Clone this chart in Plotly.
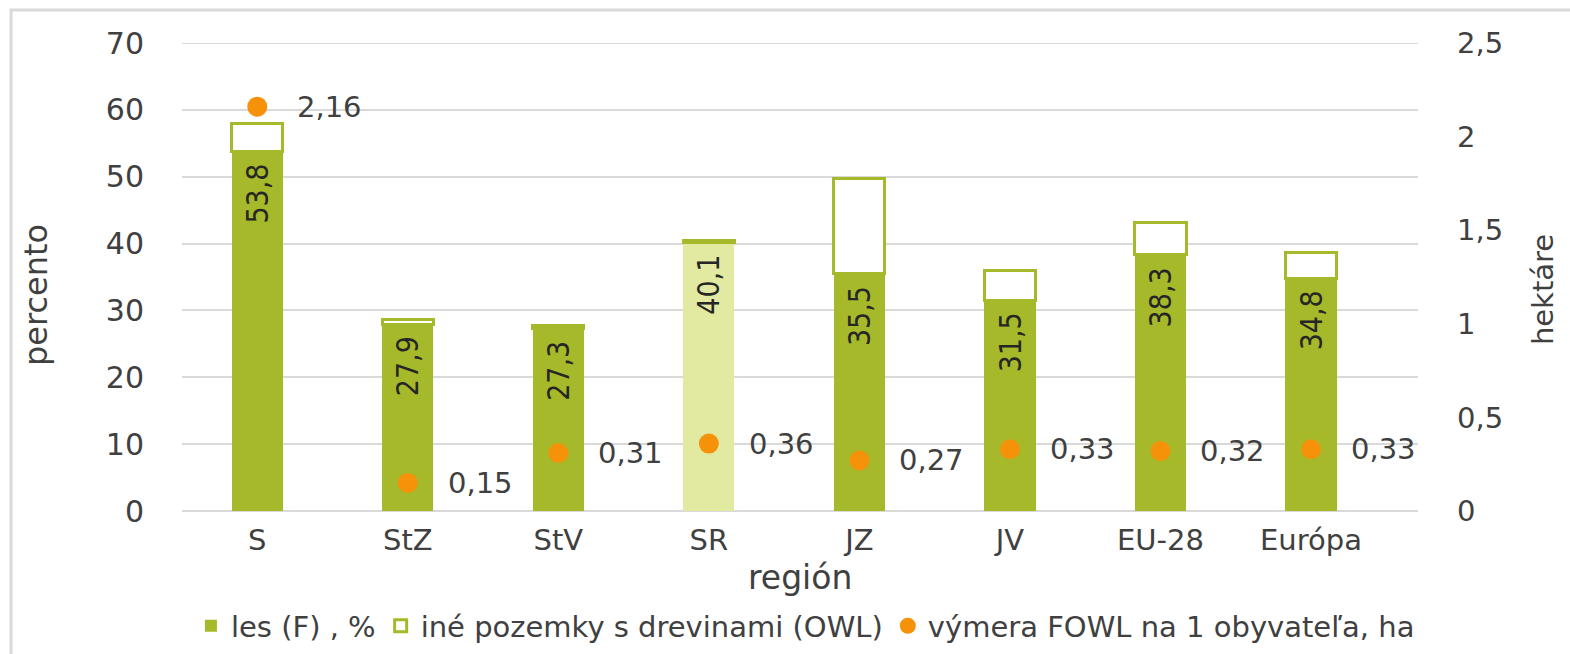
import plotly.graph_objects as go

categories = ["S", "StZ", "StV", "SR", "JZ", "JV", "EU-28", "Európa"]
forest_pct = [53.8, 27.9, 27.3, 40.1, 35.5, 31.5, 38.3, 34.8]
owl_pct = [4.2, 0.7, 0.4, 0.4, 14.3, 4.5, 4.9, 3.8]
fowl_ha = [2.16, 0.15, 0.31, 0.36, 0.27, 0.33, 0.32, 0.33]

left_ticks = [0, 10, 20, 30, 40, 50, 60, 70]
right_ticks = [0, 0.5, 1, 1.5, 2, 2.5]

GREEN = "#A6B92A"
LIGHT_GREEN = "#E1EAA0"
ORANGE = "#F5920A"
GRID = "#D9D9D9"
TEXT = "#404040"
FONT = "DejaVu Sans"
NARROW = "Liberation Sans Narrow, DejaVu Sans Condensed, Liberation Sans"

def fmt(v):
    return f"{v:g}".replace(".", ",")

forest_colors = [LIGHT_GREEN if c == "SR" else GREEN for c in categories]

fig = go.Figure()
fig.add_trace(go.Bar(
    x=categories, y=forest_pct, name="les (F) , %",
    marker=dict(color=forest_colors, line=dict(width=0)),
))
fig.add_trace(go.Bar(
    x=categories, y=owl_pct, name="iné pozemky s drevinami (OWL)",
    marker=dict(color="white", line=dict(color=GREEN, width=3)),
))
fig.add_trace(go.Scatter(
    x=categories, y=fowl_ha, name="výmera FOWL na 1 obyvateľa, ha",
    yaxis="y2", mode="markers",
    marker=dict(color=ORANGE, size=20, symbol="circle"),
))

annotations = []
for c, v in zip(categories, forest_pct):
    annotations.append(dict(
        x=c, y=v, xref="x", yref="y", text=fmt(v), showarrow=False,
        textangle=-90, xanchor="center", yanchor="middle", yshift=-42,
        font=dict(family=NARROW, size=30, color="#262626"),
    ))
for c, v in zip(categories, fowl_ha):
    annotations.append(dict(
        x=c, y=v, xref="x", yref="y2", text=fmt(v), showarrow=False,
        xanchor="left", yanchor="middle", xshift=38,
        font=dict(family=FONT, size=29, color=TEXT),
    ))

# axis titles
annotations += [
    dict(text="percento", xref="paper", yref="paper", x=0, y=0.4615, xshift=-146,
         xanchor="center", yanchor="middle", textangle=-90, showarrow=False,
         font=dict(family=FONT, size=32, color=TEXT)),
    dict(text="hektáre", xref="paper", yref="paper", x=1, y=0.472, xshift=125,
         xanchor="center", yanchor="middle", textangle=-90, showarrow=False,
         font=dict(family=FONT, size=29, color=TEXT)),
    dict(text="región", xref="paper", yref="paper", x=0.5, y=-0.143,
         xanchor="center", yanchor="middle", showarrow=False,
         font=dict(family=FONT, size=33, color=TEXT)),
]

fig.update_layout(
    width=1570, height=654,
    margin=dict(l=182, r=152, t=43, b=143),
    paper_bgcolor="white", plot_bgcolor="white",
    barmode="stack", bargap=0.66,
    separators=", ",
    font=dict(family=FONT, size=25, color=TEXT),
    showlegend=True,
    legend=dict(
        orientation="h", xref="container", yref="container",
        x=0.513, xanchor="center", y=0.043, yanchor="middle",
        font=dict(family=FONT, size=29, color=TEXT),
        traceorder="normal", itemwidth=30,
    ),
    xaxis=dict(
        showgrid=False, showline=False, ticks="", automargin=False,
        ticklabelstandoff=9,
        tickfont=dict(family=FONT, size=29, color=TEXT),
    ),
    yaxis=dict(
        range=[0, 70], tickvals=left_ticks, automargin=False,
        showgrid=True, gridcolor=GRID, gridwidth=2,
        zeroline=True, zerolinecolor=GRID, zerolinewidth=2,
        showline=False, ticks="", ticklabelstandoff=37,
        tickfont=dict(family=FONT, size=30, color=TEXT),
    ),
    yaxis2=dict(
        range=[0, 2.5], tickvals=right_ticks, overlaying="y", side="right",
        showgrid=False, zeroline=False, showline=False, ticks="", automargin=False,
        ticklabelstandoff=38,
        tickfont=dict(family=FONT, size=29, color=TEXT),
    ),
    annotations=annotations,
    shapes=[
        dict(type="rect", xref="paper", yref="paper",
             x0=-0.1383, x1=1.14, y0=-0.35, y1=1.0705,
             line=dict(color=GRID, width=3), fillcolor="rgba(0,0,0,0)", layer="below"),
        dict(type="line", xref="paper", yref="y",
             x0=0, x1=1, y0=left_ticks[-1], y1=left_ticks[-1],
             line=dict(color=GRID, width=2), layer="below"),
    ],
)

fig.write_html(
    "out.html",
    config={"displayModeBar": False},
    post_script="document.body.style.margin='0';document.body.style.overflow='hidden';",
)
